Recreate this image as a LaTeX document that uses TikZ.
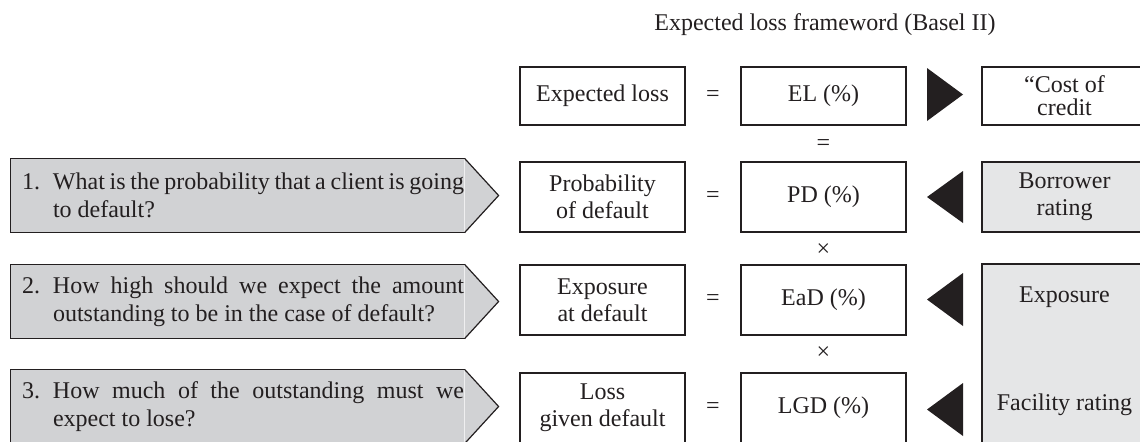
\documentclass[tikz,border=0pt]{standalone}
\usepackage{fontspec}
\setmainfont{Liberation Serif}
\usepackage{tikz}

\definecolor{qgray}{RGB}{209,210,212}
\definecolor{rgray}{RGB}{229,230,231}
\definecolor{ink}{RGB}{35,31,32}

\newcommand{\question}[2]{\parbox{226.5pt}{\baselineskip=14pt\leftskip=21pt\hyphenpenalty=10000\noindent\llap{\makebox[15.5pt][l]{#1}}#2}}

\begin{document}
\begin{tikzpicture}[x=0.5pt,y=-0.5pt,line width=0.6pt,color=ink,
  font=\fontsize{12}{13.5}\selectfont,
  term/.style={draw,fill=white,minimum width=82.5pt,minimum height=35pt,align=center,inner sep=0pt},
  rating/.style={draw,fill=rgray,minimum width=82.5pt,align=center,inner sep=0pt},
  question/.style={fill=qgray,minimum width=226.5pt,minimum height=36.5pt,inner sep=0pt}]
\useasboundingbox (0,0) rectangle (1140,441);
\clip (0,0) rectangle (1140,441);

\node (title) at (825,25) {Expected loss frameword (Basel II)};

% questions
\node[question] (q1) at (237.5,195.5) {\question{1.}{What is the probability that a client is going\linebreak to default?}};
\draw[fill=qgray] (q1.north east) -- ([xshift=17pt]q1.east) -- (q1.south east);
\draw (q1.south east) -- (q1.south west) -- (q1.north west) -- (q1.north east);
\node[question] (q2) at (237.5,301.5) {\question{2.}{How high should we expect the amount\linebreak outstanding to be in the case of default?}};
\draw[fill=qgray] (q2.north east) -- ([xshift=17pt]q2.east) -- (q2.south east);
\draw (q2.south east) -- (q2.south west) -- (q2.north west) -- (q2.north east);
\node[question] (q3) at (237.5,406.5) {\question{3.}{How much of the outstanding must we\linebreak expect to lose?}};
\draw[fill=qgray] (q3.north east) -- ([xshift=17pt]q3.east) -- (q3.south east);
\draw (q3.south east) -- (q3.south west) -- (q3.north west) -- (q3.north east);

% terms
\node[term,minimum height=29pt] (el) at (602.5,96) {Expected loss};
\node (eq1) at (713,96) {=};
\node[term,minimum height=29pt] (elv) at (823.5,96) {EL (\%)};
\node[term,minimum height=29pt] (cost) at (1064.5,96) {“Cost of\\[-2pt]credit};
\node (eq0) at (823.5,145) {=};

\node[term] (pd) at (602.5,197) {Probability\\of default};
\node (eq2) at (713,197) {=};
\node[term] (pdv) at (823.5,197) {PD (\%)};
\node[rating,minimum height=35pt] (borrower) at (1064.5,197) {Borrower\\rating};
\node (times1) at (823.5,250) {×};

\node[term] (ead) at (602.5,300) {Exposure\\at default};
\node (eq3) at (713,300) {=};
\node[term] (eadv) at (823.5,300) {EaD (\%)};
\node (times2) at (823.5,353) {×};

\node[term] (lgd) at (602.5,408) {Loss\\given default};
\node (eq4) at (713,408) {=};
\node[term] (lgdv) at (823.5,408) {LGD (\%)};

\node[rating,minimum height=93pt] (facility) at (1064.5,357) {};
\node (exposure) at (1064.5,297) {Exposure};
\node (frating) at (1064.5,405) {Facility rating};

% pointers
\fill (927,68) -- (963,94.5) -- (927,121) -- cycle;
\fill (963,171) -- (927,197) -- (963,223) -- cycle;
\fill (963,273) -- (927,299.5) -- (963,326) -- cycle;
\fill (963,383) -- (927,409.5) -- (963,436) -- cycle;
\end{tikzpicture}
\end{document}
